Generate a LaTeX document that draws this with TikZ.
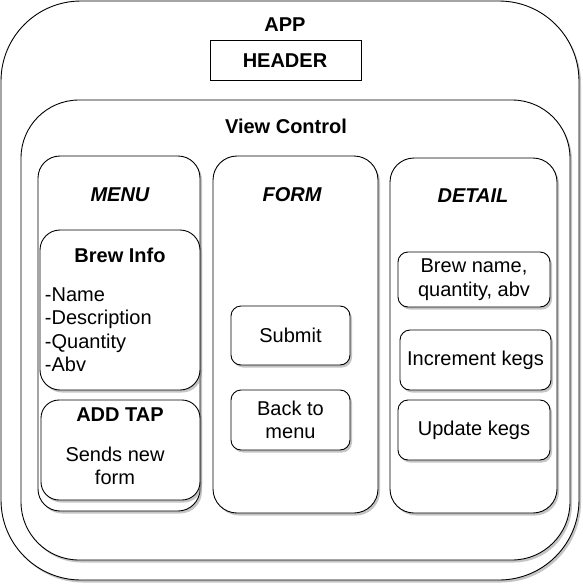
\documentclass[tikz,border=0pt]{standalone}
\usepackage{fontspec}
\setmainfont{Liberation Sans}
\usetikzlibrary{shadows}
\begin{document}
\begin{tikzpicture}[x=1pt,y=-1pt,
  font=\fontsize{20}{23.5}\selectfont,
  box/.style={draw=black, line width=0.9pt, fill=white, inner sep=0pt, outer sep=0pt,
    align=center,
    drop shadow={shadow xshift=2pt, shadow yshift=-2.5pt, fill=black!45, opacity=0.5}},
  plainbox/.style={draw=black, line width=0.9pt, fill=white, inner sep=0pt, outer sep=0pt},
  txt/.style={inner sep=0pt, outer sep=0pt, align=center},
  btxt/.style={txt, font=\fontsize{20}{23.5}\selectfont\bfseries},
  titxt/.style={txt, font=\fontsize{20}{23.5}\selectfont\bfseries\itshape}
]
\useasboundingbox (0,0) rectangle (583,584);
\fill[white] (0,0) rectangle (583,584);
% outer containers
\node[box, rounded corners=80pt, minimum width=578pt, minimum height=579pt] (app) at (290,290.5) {};
\node[btxt] (apptxt) at (285,25) {APP};
\node[plainbox, minimum width=151pt, minimum height=40pt] (header) at (285.5,60) {};
\node[btxt] (headertxt) at (285,61) {HEADER};
\node[box, rounded corners=58pt, minimum width=549pt, minimum height=460pt] (vc) at (295.5,330) {};
\node[btxt] (vctxt) at (286,126) {View Control};
% columns
\node[box, rounded corners=22pt, minimum width=162pt, minimum height=355pt] (menu) at (119,333.5) {};
\node[titxt] (menutxt) at (120,195) {MENU};
\node[box, rounded corners=24pt, minimum width=165pt, minimum height=357pt] (form) at (295.5,334.5) {};
\node[titxt] (formtxt) at (292,195) {FORM};
\node[box, rounded corners=24pt, minimum width=167pt, minimum height=355pt] (detail) at (473.5,335.5) {};
\node[titxt] (detailtxt) at (473,196) {DETAIL};
% menu contents
\node[box, rounded corners=20pt, minimum width=160pt, minimum height=160pt] (brew) at (120,310) {};
\node[btxt] (brewtxt) at (120,255) {Brew Info};
\node[txt, anchor=north west, align=left] (brewlist) at (45,287.5) {-Name\\-Description\\-Quantity\\-Abv};
\node[box, rounded corners=18pt, minimum width=159pt, minimum height=100pt] (addtap) at (120.5,450) {};
\node[btxt] (addtaptxt) at (120,415) {ADD TAP};
\node[txt] (sendstxt) at (115,466) {Sends new\\form};
% form contents
\node[box, rounded corners=10pt, minimum width=119pt, minimum height=59pt] (submit) at (290.5,335.5) {Submit};
\node[box, rounded corners=10pt, minimum width=119pt, minimum height=60pt] (back) at (290.5,420) {Back to\\menu};
% detail contents
\node[box, rounded corners=10pt, minimum width=152pt, minimum height=55pt] (brewname) at (474,279.5) {Brew name,\\quantity, abv};
\node[box, rounded corners=10pt, minimum width=151pt, minimum height=60pt] (incr) at (475.5,360) {Increment kegs};
\node[box, rounded corners=10pt, minimum width=152pt, minimum height=60pt] (update) at (474,430) {Update kegs};
\end{tikzpicture}
\end{document}
